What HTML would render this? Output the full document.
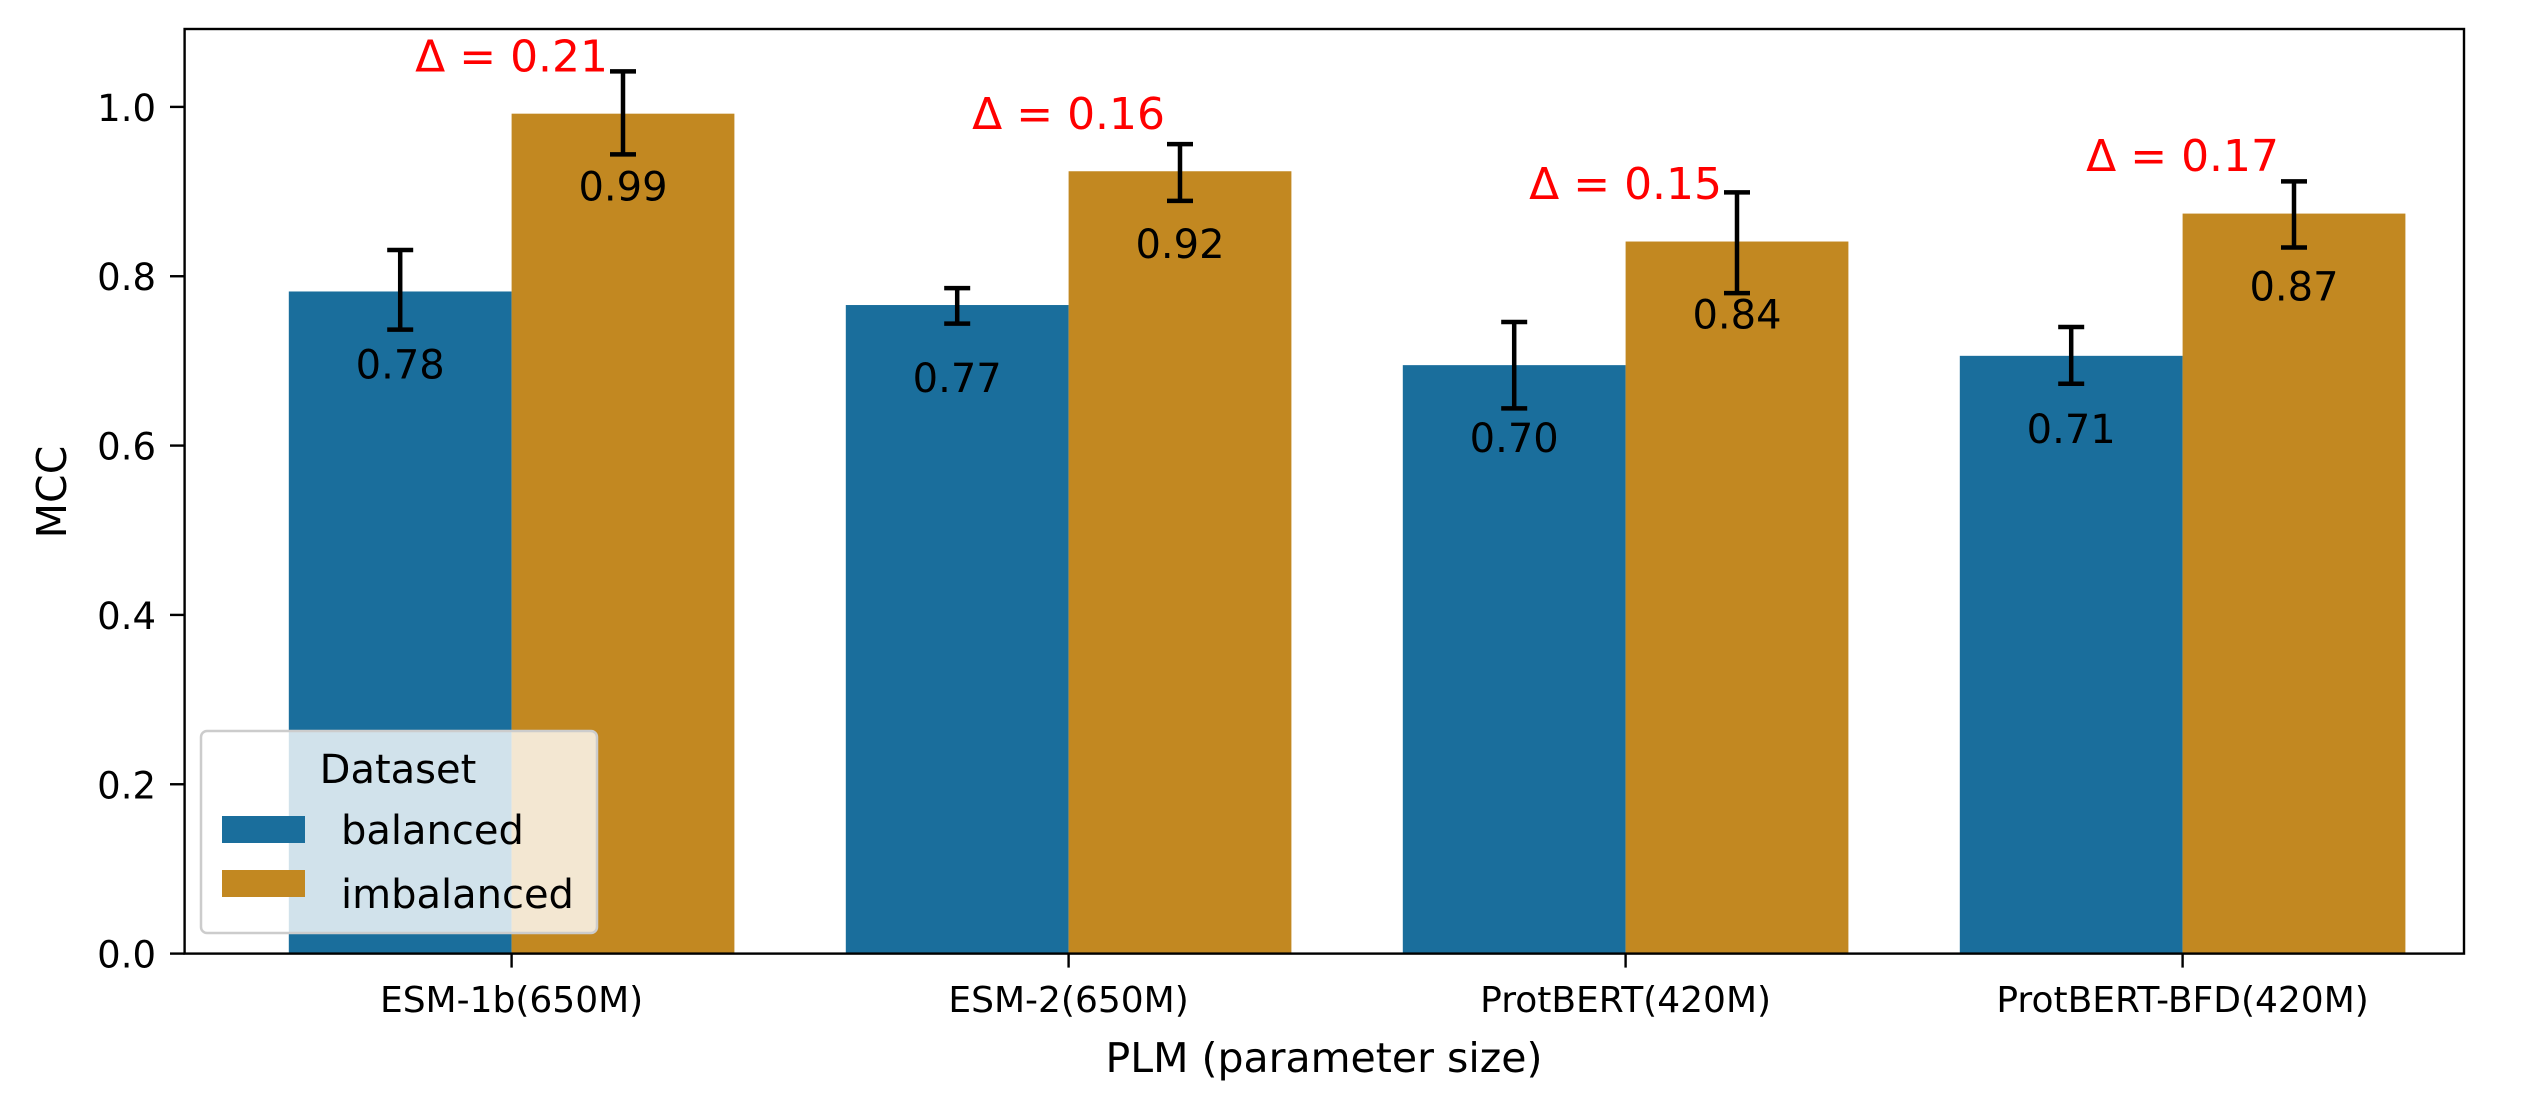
<!DOCTYPE html>
<html><head><meta charset="utf-8"><style>
html,body{margin:0;padding:0;background:#fff;}
svg{display:block;font-family:"DejaVu Sans","Liberation Sans",sans-serif;}
</style></head><body>
<svg id="chart" width="2539" height="1107" viewBox="0 0 2539 1107" xmlns="http://www.w3.org/2000/svg">
<g id="bars"></g>
<g id="labels"></g>
<rect x="184.6" y="29" width="2279.4" height="924.6" fill="none" stroke="#000" stroke-width="2.4"/>
<g id="yaxis"></g>
<g id="xaxis"></g>
<text x="0" y="0" transform="translate(66,492) rotate(-90)" text-anchor="middle" font-size="41">MCC</text>
<text x="1324" y="1072" text-anchor="middle" font-size="41">PLM (parameter size)</text>
<g>
<rect x="201" y="731" width="396" height="202" rx="6" fill="#fff" fill-opacity="0.8" stroke="#ccc" stroke-width="2.5"/>
<text x="398" y="783" text-anchor="middle" font-size="40">Dataset</text>
<rect x="222" y="816" width="83" height="27" fill="#1a6e9c"/>
<text x="341" y="844" font-size="40">balanced</text>
<rect x="222" y="870" width="83" height="27" fill="#c28821"/>
<text x="341" y="908" font-size="40">imbalanced</text>
</g>
</svg>
<script>
const categories = ["ESM-1b(650M)", "ESM-2(650M)", "ProtBERT(420M)", "ProtBERT-BFD(420M)"];
const balanced = [0.782, 0.766, 0.695, 0.706];
const imbalanced = [0.992, 0.924, 0.841, 0.874];
const balancedLo = [0.737, 0.744, 0.644, 0.673];
const balancedHi = [0.831, 0.786, 0.746, 0.740];
const imbalancedLo = [0.944, 0.889, 0.780, 0.834];
const imbalancedHi = [1.042, 0.956, 0.899, 0.912];
const balancedLabels = ["0.78", "0.77", "0.70", "0.71"];
const imbalancedLabels = ["0.99", "0.92", "0.84", "0.87"];
const deltaLabels = ["Δ = 0.21", "Δ = 0.16", "Δ = 0.15", "Δ = 0.17"];
const yTicks = [0, 0.2, 0.4, 0.6, 0.8, 1.0];
const yTickLabels = ["0.0", "0.2", "0.4", "0.6", "0.8", "1.0"];

const NS = "http://www.w3.org/2000/svg";
const y0 = 953.6, yUnit = 846.7;
function yS(v){ return y0 - v*yUnit; }
function xS(i){ return 511.6 + 557*i; }
const bw = 222.8;
function mk(tag, attrs, parent, txt){
  const e = document.createElementNS(NS, tag);
  for (const k in attrs) e.setAttribute(k, attrs[k]);
  if (txt !== undefined) e.textContent = txt;
  parent.appendChild(e);
  return e;
}
const gB = document.getElementById('bars');
const gL = document.getElementById('labels');
const gY = document.getElementById('yaxis');
const gX = document.getElementById('xaxis');
const series = [
  {vals: balanced, lo: balancedLo, hi: balancedHi, lab: balancedLabels, color: "#1a6e9c", off: -1, name: "balanced"},
  {vals: imbalanced, lo: imbalancedLo, hi: imbalancedHi, lab: imbalancedLabels, color: "#c28821", off: 0, name: "imbalanced"}
];
categories.forEach((c, i) => {
  series.forEach(s => {
    const x = xS(i) + s.off*bw;
    const r = mk('rect', {x: x, y: yS(s.vals[i]), width: bw, height: yS(0)-yS(s.vals[i]), fill: s.color}, gB);
    
    
    const cx = x + bw/2;
    const eb = mk('path', {d: `M${cx},${yS(s.lo[i])}V${yS(s.hi[i])}M${cx-13},${yS(s.lo[i])}H${cx+13}M${cx-13},${yS(s.hi[i])}H${cx+13}`, stroke: "#000", "stroke-width": 4.5, fill: "none"}, gB);
    
    
    const t = mk('text', {x: cx, y: yS(s.vals[i]) + 87, "text-anchor": "middle", "font-size": 40}, gL, s.lab[i]);
    
    
  });
  const d = mk('text', {x: xS(i), y: yS(imbalanced[i] + 0.05), "text-anchor": "middle", "font-size": 44, fill: "#ff0000"}, gL, deltaLabels[i]);
  
  
  const tk = mk('line', {x1: xS(i), x2: xS(i), y1: y0, y2: y0+14, stroke: "#000", "stroke-width": 2.4}, gX);
  
  
  const tl = mk('text', {x: xS(i), y: 1012, "text-anchor": "middle", "font-size": 36}, gX, c);
  
  
});
yTicks.forEach((v, j) => {
  const tk = mk('line', {x1: 184.6, x2: 170, y1: yS(v), y2: yS(v), stroke: "#000", "stroke-width": 2.4}, gY);
  
  
  const tl = mk('text', {x: 156, y: yS(v) + 14, "text-anchor": "end", "font-size": 37}, gY, yTickLabels[j]);
  
  
});
</script>
</body></html>
